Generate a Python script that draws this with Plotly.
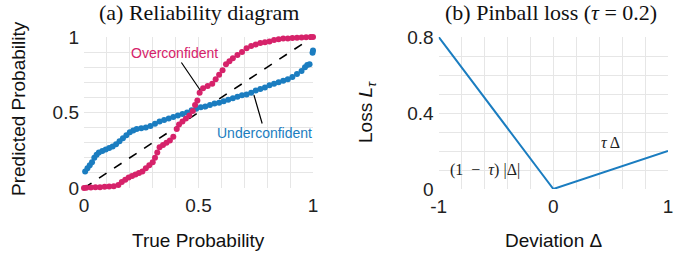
import plotly.graph_objects as go

# ---- data ----
under_x = [0.005, 0.015, 0.025, 0.035, 0.045, 0.055, 0.065, 0.08, 0.095, 0.11, 0.125, 0.14, 0.155, 0.17,
           0.185, 0.2, 0.215, 0.23, 0.25, 0.27, 0.29, 0.31, 0.33, 0.35, 0.37, 0.39, 0.41, 0.43, 0.45, 0.47,
           0.49, 0.51, 0.53, 0.55, 0.57, 0.59, 0.61, 0.63, 0.65, 0.67, 0.69, 0.71, 0.73, 0.75, 0.77, 0.79,
           0.81, 0.83, 0.85, 0.87, 0.89, 0.91, 0.93, 0.95, 0.965, 0.975, 0.985, 0.998, 1.0]
under_y = [0.11, 0.13, 0.15, 0.17, 0.20, 0.22, 0.235, 0.245, 0.255, 0.265, 0.275, 0.29, 0.31, 0.33,
           0.35, 0.37, 0.38, 0.39, 0.395, 0.40, 0.41, 0.425, 0.44, 0.45, 0.46, 0.47, 0.48, 0.49, 0.50, 0.515,
           0.525, 0.535, 0.54, 0.55, 0.56, 0.565, 0.575, 0.585, 0.595, 0.605, 0.615, 0.62, 0.63, 0.645, 0.655, 0.665,
           0.68, 0.69, 0.70, 0.71, 0.72, 0.735, 0.755, 0.775, 0.80, 0.815, 0.82, 0.895, 0.91]

over_x = [0.0, 0.01, 0.03, 0.05, 0.07, 0.09, 0.11, 0.13, 0.15, 0.165, 0.18, 0.195, 0.21, 0.225, 0.24, 0.255,
          0.27, 0.285, 0.3, 0.31, 0.32, 0.33, 0.345, 0.36, 0.375, 0.39, 0.405, 0.415, 0.43, 0.445, 0.46, 0.475,
          0.485, 0.495, 0.505, 0.52, 0.54, 0.56, 0.575, 0.59, 0.605, 0.62, 0.635, 0.65, 0.67, 0.69, 0.71, 0.73,
          0.75, 0.77, 0.79, 0.81, 0.83, 0.85, 0.87, 0.89, 0.91, 0.93, 0.95, 0.97, 0.99, 1.0]
over_y = [0.0, 0.002, 0.003, 0.005, 0.005, 0.008, 0.01, 0.012, 0.02, 0.04, 0.055, 0.07, 0.08, 0.09, 0.10, 0.11,
          0.13, 0.15, 0.17, 0.20, 0.235, 0.27, 0.285, 0.30, 0.315, 0.34, 0.39, 0.42, 0.44, 0.46, 0.48, 0.51,
          0.55, 0.58, 0.63, 0.66, 0.675, 0.69, 0.72, 0.75, 0.78, 0.82, 0.84, 0.86, 0.88, 0.90, 0.925, 0.94,
          0.95, 0.96, 0.965, 0.97, 0.98, 0.985, 0.99, 0.99, 0.993, 0.995, 0.997, 0.999, 1.0, 1.0]

diag_x = [0, 1]
diag_y = [0, 1]

tau = 0.2
dev_x = [-1, 0, 1]
loss_y = [0.8, 0.0, 0.2]

BLUE = "#1b7dc0"
MAGENTA = "#d6226a"
GRID = "#e6e6e6"
SANS = "Liberation Sans, Arial, sans-serif"
SERIF = "Liberation Serif, Times New Roman, serif"

W, H = 683, 260

def dx(px):
    return px / W

def dy(py):
    return 1 - py / H

fig = go.Figure()
fig.add_trace(go.Scatter(x=diag_x, y=diag_y, mode="lines",
                         line=dict(color="black", width=1.6, dash="dash"),
                         xaxis="x", yaxis="y", showlegend=False))
fig.add_trace(go.Scatter(x=under_x, y=under_y, mode="markers",
                         marker=dict(color=BLUE, size=6), cliponaxis=False,
                         xaxis="x", yaxis="y", showlegend=False))
fig.add_trace(go.Scatter(x=over_x, y=over_y, mode="markers",
                         marker=dict(color=MAGENTA, size=6), cliponaxis=False,
                         xaxis="x", yaxis="y", showlegend=False))
fig.add_trace(go.Scatter(x=dev_x, y=loss_y, mode="lines",
                         line=dict(color=BLUE, width=2), cliponaxis=False,
                         xaxis="x2", yaxis="y2", showlegend=False))

ax_common = dict(showgrid=True, gridcolor=GRID, gridwidth=1, zeroline=False, showline=False,
                 automargin=False, ticks="", tickfont=dict(family=SANS, size=19, color="#222"),
                 fixedrange=True)

fig.update_layout(
    width=W, height=H,
    margin=dict(l=0, r=0, t=0, b=0, pad=0, autoexpand=False),
    paper_bgcolor="white", plot_bgcolor="white",
    xaxis=dict(domain=[dx(84), dx(313)], range=[0, 1], anchor="y",
               tickvals=[0, 0.5, 1], ticktext=["0", "0.5", "1"], ticklabelstandoff=4,
               minor=dict(dtick=0.1, showgrid=True, gridcolor=GRID, ticks=""), **ax_common),
    yaxis=dict(domain=[dy(188), dy(37)], range=[0, 1], anchor="x",
               tickvals=[0, 0.5, 1], ticktext=["0", "0.5", "1"], ticklabelstandoff=4,
               minor=dict(dtick=0.1, showgrid=True, gridcolor=GRID, ticks=""), **ax_common),
    xaxis2=dict(domain=[dx(438.7), dx(668)], range=[-1, 1], anchor="y2",
                tickvals=[-1, 0, 1], ticktext=["-1", "0", "1"], ticklabelstandoff=4,
                minor=dict(dtick=0.2, showgrid=True, gridcolor=GRID, ticks=""), **ax_common),
    yaxis2=dict(domain=[dy(189), dy(37)], range=[0, 0.8], anchor="x2",
                tickvals=[0, 0.4, 0.8], ticktext=["0", "0.4", "0.8"], ticklabelstandoff=4,
                minor=dict(dtick=0.1, showgrid=True, gridcolor=GRID, ticks=""), **ax_common),
)

def ptxt(text, px, py, size, family, angle=0):
    return dict(text=text, x=dx(px), y=dy(py), xref="paper", yref="paper",
                xanchor="center", yanchor="middle", textangle=angle, showarrow=False,
                font=dict(family=family, size=size, color="#111"))

ann = [
    ptxt("(a) Reliability diagram", 199, 12, 22, SERIF),
    ptxt("(b) Pinball loss (<i>τ</i> = 0.2)", 551, 12, 22, SERIF),
    ptxt("True Probability", 198, 240, 19, SANS),
    ptxt("Predicted Probability", 18, 109, 19, SANS, -90),
    ptxt("Deviation Δ", 553, 240, 19, SANS),
    ptxt("Loss <i>L</i><sub><i>τ</i></sub>", 367, 112, 19, SANS, -90),
]
# callouts
ann.append(dict(text="Overconfident", x=0.507, y=0.649, ax=0.397, ay=0.894, xref="x", yref="y",
                axref="x", ayref="y", showarrow=True, arrowhead=0, arrowwidth=1.2, arrowcolor="black",
                xanchor="center", yanchor="middle",
                font=dict(family=SANS, size=14, color=MAGENTA)))
ann.append(dict(text="Underconfident", x=0.742, y=0.616, ax=0.79, ay=0.364, xref="x", yref="y",
                axref="x", ayref="y", showarrow=True, arrowhead=0, arrowwidth=1.2, arrowcolor="black",
                xanchor="center", yanchor="middle",
                font=dict(family=SANS, size=14, color=BLUE)))
ann.append(dict(text="(1 &nbsp;− &nbsp;<i>τ</i>) |Δ|", x=-0.6, y=0.1, xref="x2", yref="y2", showarrow=False,
                xanchor="center", yanchor="middle",
                font=dict(family=SERIF, size=16, color="#222")))
ann.append(dict(text="<i>τ</i> Δ", x=0.5, y=0.244, xref="x2", yref="y2", showarrow=False,
                xanchor="center", yanchor="middle",
                font=dict(family=SERIF, size=16, color="#222")))
fig.update_layout(annotations=ann, hovermode=False)

fig.write_html("out.html", config={"displayModeBar": False, "staticPlot": True},
               post_script="document.body.style.margin='0px';document.body.style.overflow='hidden';")
